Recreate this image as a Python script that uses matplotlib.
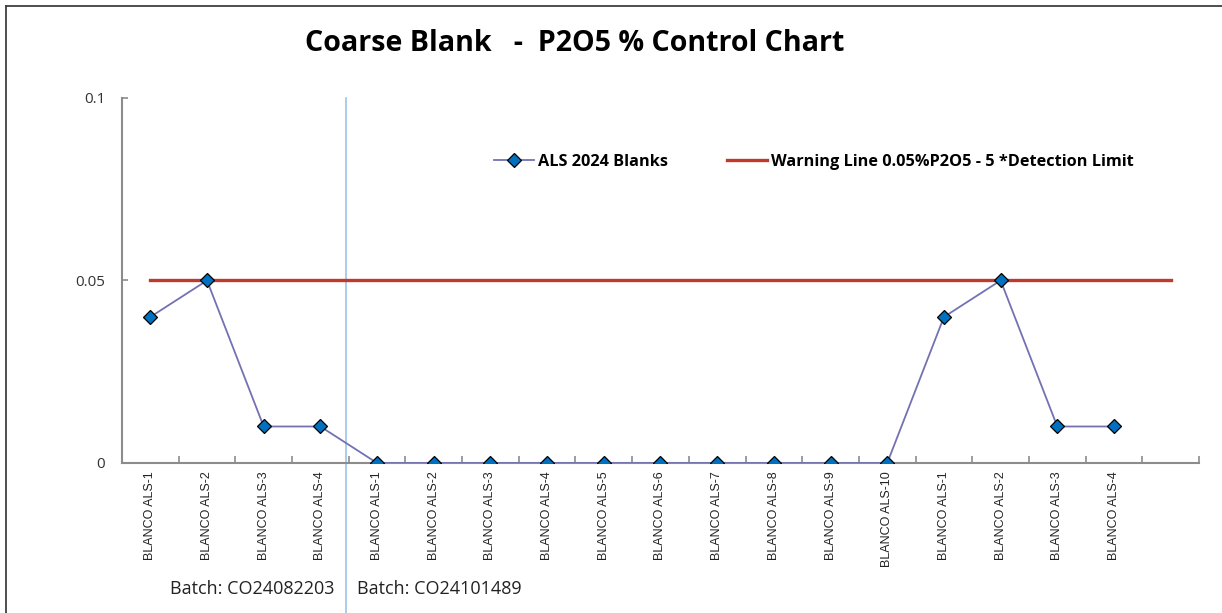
import numpy as np
import matplotlib
matplotlib.use("Agg")
import matplotlib.pyplot as plt
from matplotlib.lines import Line2D

# -----------------------------
# Data
# -----------------------------
categories = [
    "BLANCO ALS-1", "BLANCO ALS-2", "BLANCO ALS-3", "BLANCO ALS-4",
    "BLANCO ALS-1", "BLANCO ALS-2", "BLANCO ALS-3", "BLANCO ALS-4",
    "BLANCO ALS-5", "BLANCO ALS-6", "BLANCO ALS-7", "BLANCO ALS-8",
    "BLANCO ALS-9", "BLANCO ALS-10",
    "BLANCO ALS-1", "BLANCO ALS-2", "BLANCO ALS-3", "BLANCO ALS-4",
    "",
]
blanks = [0.04, 0.05, 0.01, 0.01,
          0, 0, 0, 0, 0, 0, 0, 0, 0, 0,
          0.04, 0.05, 0.01, 0.01]
warning = [0.05] * 19
yticks = [0, 0.05, 0.1]
ytick_labels = ["0", "0.05", "0.1"]
batches = ["Batch: CO24082203", "Batch: CO24101489"]

plt.rcParams["font.family"] = ["Open Sans", "DejaVu Sans"]

fig = plt.figure(figsize=(12.22, 6.13), dpi=100)
ax = fig.add_axes([0.0998, 0.2447, 0.8814, 0.5955])

x_all = np.arange(len(categories))
x_b = np.arange(len(blanks))

ax.plot(x_all, warning, color="#C0392B", lw=2.4, zorder=2,
        label="Warning Line 0.05%P2O5 - 5 *Detection Limit")
ax.plot(x_b, blanks, color="#7272B2", lw=1.3, marker="D", ms=7,
        mfc="#0070C0", mec="black", mew=0.9, zorder=3,
        label="ALS 2024 Blanks")

ax.set_xlim(-0.5, len(categories) - 0.5)
ax.set_ylim(0, 0.1)

# x axis: labels at centers, tick marks at boundaries
ax.set_xticks(x_all)
ax.set_xticklabels(categories, rotation=90, fontsize=9,
                   family=["Liberation Sans", "DejaVu Sans"], color="#222222")
ax.tick_params(axis="x", which="major", length=0, pad=6)
ax.set_xticks(np.arange(len(categories) + 1) - 0.5, minor=True)
ax.tick_params(axis="x", which="minor", direction="in", length=5,
               width=1.2, color="#8C8C8C")

ax.set_yticks(yticks)
ax.set_yticklabels(ytick_labels, fontsize=11, color="#333333")
ax.tick_params(axis="y", direction="in", length=4, width=1.2,
               color="#8C8C8C", pad=12)

for s in ["top", "right"]:
    ax.spines[s].set_visible(False)
for s in ["left", "bottom"]:
    ax.spines[s].set_color("#8C8C8C")
    ax.spines[s].set_linewidth(1.5)

# batch separator line
sep_x = 4 - 0.55
ax.plot([sep_x, sep_x], [0.1, -0.42], color="#9DC3E6", lw=1.2,
        clip_on=False, zorder=1)

# batch labels
ax.text(sep_x - 0.2, -0.0345, batches[0], ha="right", va="center",
        fontsize=13, color="#222222", clip_on=False)
ax.text(sep_x + 0.2, -0.0345, batches[1], ha="left", va="center",
        fontsize=13, color="#222222", clip_on=False)

# legend (blanks first)
handles, labels = ax.get_legend_handles_labels()
leg = ax.legend(handles[::-1], labels[::-1], loc="upper left",
                bbox_to_anchor=(0.345, 0.847), ncol=2, frameon=False,
                prop={"weight": "bold", "size": 11.7}, handlelength=2.5,
                columnspacing=3.6, handletextpad=0.25,
                borderaxespad=0, borderpad=0)

fig.suptitle("Coarse Blank   -  P2O5 % Control Chart", x=0.47, y=0.952,
             fontsize=20.6, fontweight="bold", color="black")

# figure frame (top and left edges visible)
fig.add_artist(Line2D([6 / 1222, 1.0], [1 - 6 / 613, 1 - 6 / 613],
                      color="#404040", lw=1.3, transform=fig.transFigure))
fig.add_artist(Line2D([6 / 1222, 6 / 1222], [0, 1 - 6 / 613],
                      color="#404040", lw=1.3, transform=fig.transFigure))

fig.savefig("out.png", dpi=100)
